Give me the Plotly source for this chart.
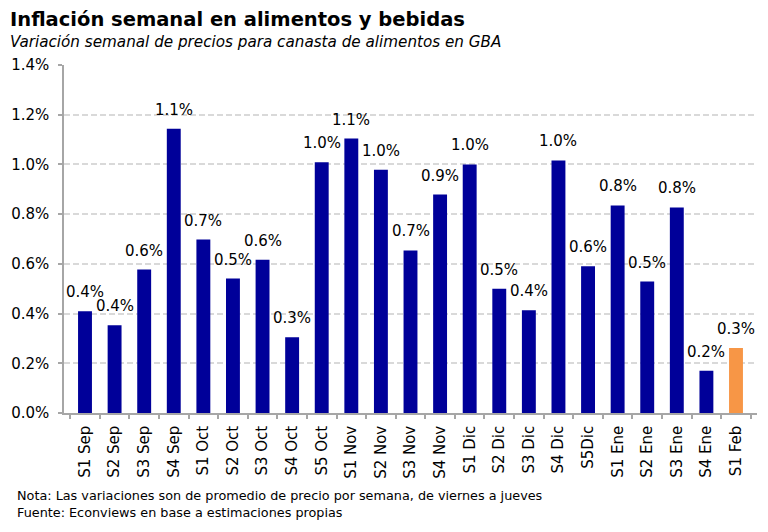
import plotly.graph_objects as go

categories = ["S1 Sep", "S2 Sep", "S3 Sep", "S4 Sep", "S1 Oct", "S2 Oct", "S3 Oct", "S4 Oct",
              "S5 Oct", "S1 Nov", "S2 Nov", "S3 Nov", "S4 Nov", "S1 Dic", "S2 Dic", "S3 Dic",
              "S4 Dic", "S5Dic", "S1 Ene", "S2 Ene", "S3 Ene", "S4 Ene", "S1 Feb"]
values = [0.409, 0.353, 0.577, 1.144, 0.698, 0.541, 0.617, 0.305,
          1.009, 1.104, 0.979, 0.654, 0.879, 1.000, 0.500, 0.413,
          1.016, 0.590, 0.835, 0.529, 0.827, 0.170, 0.261]
y_ticks = [0.0, 0.2, 0.4, 0.6, 0.8, 1.0, 1.2, 1.4]

NAVY = "#000099"
ORANGE = "#F79646"
colors = [NAVY] * (len(values) - 1) + [ORANGE]
FONT = "DejaVu Sans"

fig = go.Figure()
fig.add_trace(go.Bar(x=categories, y=values, marker=dict(color=colors, line=dict(width=0)),
                     width=0.47, hoverinfo="skip"))

W, H = 768, 532
L, R, T, B = 64, 11, 65, 118.5
pw, ph = W - L - R, H - T - B

def px(xp):
    return (xp - L) / pw

def py(yp):
    return (H - B - yp) / ph

annotations = []
for c, v in zip(categories, values):
    annotations.append(dict(x=c, y=v, xref="x", yref="y", text=f"{v:.1f}%", showarrow=False,
                            yanchor="bottom", yshift=8,
                            font=dict(family=FONT, size=15, color="#000000")))

annotations += [
    dict(x=px(8), y=py(19), xref="paper", yref="paper", xanchor="left", yanchor="middle",
         text="<b>Inflación semanal en alimentos y bebidas</b>", showarrow=False,
         font=dict(family=FONT, size=19.5, color="#000000")),
    dict(x=px(8), y=py(42), xref="paper", yref="paper", xanchor="left", yanchor="middle",
         text="<i>Variación semanal de precios para canasta de alimentos en GBA</i>", showarrow=False,
         font=dict(family=FONT, size=15.2, color="#000000")),
    dict(x=px(15), y=py(496), xref="paper", yref="paper", xanchor="left", yanchor="middle",
         text="Nota: Las variaciones son de promedio de precio por semana, de viernes a jueves",
         showarrow=False, font=dict(family=FONT, size=12.8, color="#000000")),
    dict(x=px(15), y=py(513), xref="paper", yref="paper", xanchor="left", yanchor="middle",
         text="Fuente: Econviews en base a estimaciones propias",
         showarrow=False, font=dict(family=FONT, size=12.8, color="#000000")),
]

fig.update_layout(
    width=W, height=H,
    margin=dict(l=L, r=R, t=T, b=B, autoexpand=False),
    paper_bgcolor="white", plot_bgcolor="white",
    showlegend=False,
    bargap=0.53,
    annotations=annotations,
    font=dict(family=FONT, size=15, color="#000000"),
)
fig.update_xaxes(
    type="category", tickangle=-90, tickson="boundaries", ticks="outside", ticklen=4,
    tickcolor="#a6a6a6", tickwidth=1.5, showline=True, linecolor="#a6a6a6", linewidth=1.5,
    showgrid=False, ticklabelstandoff=5, tickfont=dict(family=FONT, size=15, color="#000000"),
)
fig.update_yaxes(
    range=[0, 1.4], tickvals=y_ticks, ticktext=[f"{t:.1f}%" for t in y_ticks],
    showline=True, linecolor="#a6a6a6", linewidth=1.5, ticks="outside", ticklen=4,
    tickcolor="#a6a6a6", tickwidth=1.5, ticklabelstandoff=6,
    showgrid=True, gridcolor="#d9d9d9", griddash="6px,3px", gridwidth=1.5, zeroline=False,
    tickfont=dict(family=FONT, size=15, color="#000000"),
)

fig.write_html("out.html", config={"displayModeBar": False},
               post_script="document.body.style.margin='0';document.body.style.padding='0';")
